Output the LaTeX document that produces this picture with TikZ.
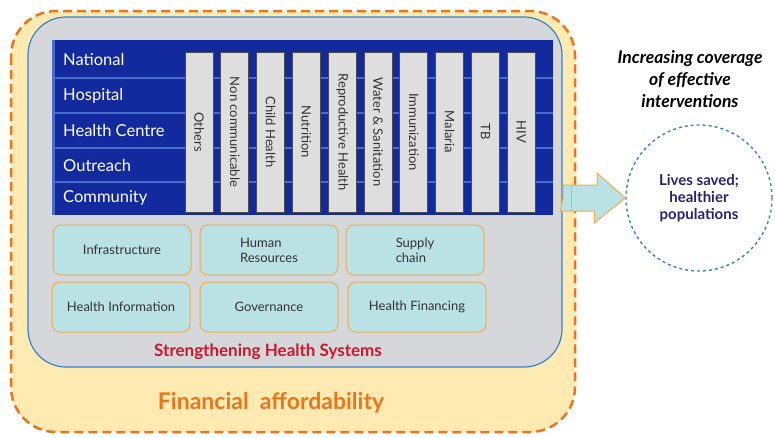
\documentclass[tikz,border=0pt]{standalone}
\usepackage{fontspec}
\setmainfont{Lato}
\usetikzlibrary{positioning}
\definecolor{affordfill}{RGB}{255,234,178}
\definecolor{affordline}{RGB}{232,118,30}
\definecolor{hsgray}{RGB}{214,215,219}
\definecolor{hsline}{RGB}{55,130,200}
\definecolor{matrixblue}{RGB}{18,42,158}
\definecolor{rowline}{RGB}{70,110,205}
\definecolor{barfill}{RGB}{222,222,222}
\definecolor{blockfill}{RGB}{186,225,228}
\definecolor{blockline}{RGB}{240,172,78}
\definecolor{hsred}{RGB}{200,25,45}
\definecolor{livesblue}{RGB}{38,34,110}

\begin{document}
\begin{tikzpicture}[x=1pt,y=-1pt,
    rowlabel/.style={anchor=west,text=white,inner sep=0pt,font=\fontsize{16.5}{16.5}\selectfont},
    bar/.style={draw=gray!60!black,fill=barfill,line width=1pt,rotate=-90,
      minimum width=160pt,minimum height=28pt,inner sep=0pt,text=black!80,
      font=\fontsize{13}{13}\selectfont},
    block/.style={draw=blockline,fill=blockfill,line width=1pt,rounded corners=8pt,
      minimum width=138pt,minimum height=50pt,align=left,text=black!80,
      font=\fontsize{13}{15}\selectfont}]
  \useasboundingbox (0,0) rectangle (775,437);
  % financial affordability and health systems frames
  \draw [affordline,fill=affordfill,line width=2.5pt,dash pattern=on 9pt off 5pt,rounded corners=45pt] (11,11) rectangle (575,432);
  \draw [hsline,fill=hsgray,line width=1.2pt,rounded corners=38pt] (28,17) rectangle (562,367);
  % levels x programmes
  \fill [matrixblue] (52,40) rectangle (553,215);
  \foreach \y in {78,113,148,182}
    \draw [rowline,line width=1.5pt] (52,\y) -- (553,\y);
  \fill [rowline] (52,40) rectangle (55,215);
  \node [rowlabel] (national) at (63,59) {National};
  \node [rowlabel] (hospital) at (63,96) {Hospital};
  \node [rowlabel] (centre) at (63,130) {Health Centre};
  \node [rowlabel] (outreach) at (63,165) {Outreach};
  \node [rowlabel] (community) at (63,198) {Community};
  \foreach \t [count=\i from 0] in {Others,Non communicable,Child Health,Nutrition,Reproductive Health,Water \& Sanitation,Immunization,Malaria,TB,HIV}
    \node [bar] (prog\i) at (199+35.8*\i,132) {\t};
  % system blocks
  \node [block] (infra) at (122,250) {Infrastructure};
  \node [block] (hr) at (269,250) {Human\\Resources};
  \node [block] (supply) at (415,250) {Supply\\chain};
  \node [block] (hinfo) at (121,307) {Health Information};
  \node [block] (gov) at (269,307) {Governance};
  \node [block] (hfin) at (417,307) {Health Financing};
  \node [text=hsred,font=\bfseries\fontsize{17}{17}\selectfont] (shs) at (268,352) {Strengthening Health Systems};
  \node [text=affordline,font=\bfseries\fontsize{23}{23}\selectfont] (afford) at (271,403) {Financial\ \ affordability};
  % outcome
  \node [font=\bfseries\itshape\fontsize{17.5}{22}\selectfont,align=center] (coverage) at (690,79) {Increasing coverage\\of effective\\interventions};
  \node [circle,draw=hsline,dashed,line width=1.4pt,minimum size=146pt,text=livesblue,
    align=center,font=\bfseries\fontsize{15}{17}\selectfont] (lives) at (699,198) {Lives saved;\\healthier\\populations};
  \coordinate (arrowtail) at (563,198);
  \draw [blockline,fill=blockfill,line width=1pt] (arrowtail) -- +(0,-13) -- +(34,-13) -- +(34,-25) -- (lives.west) -- +(-31,25) -- +(-31,13) -- +(-65,13) -- cycle;
  \draw [blockline,line width=1pt] (arrowtail) +(8,-13) -- +(8,13);
\end{tikzpicture}
\end{document}
